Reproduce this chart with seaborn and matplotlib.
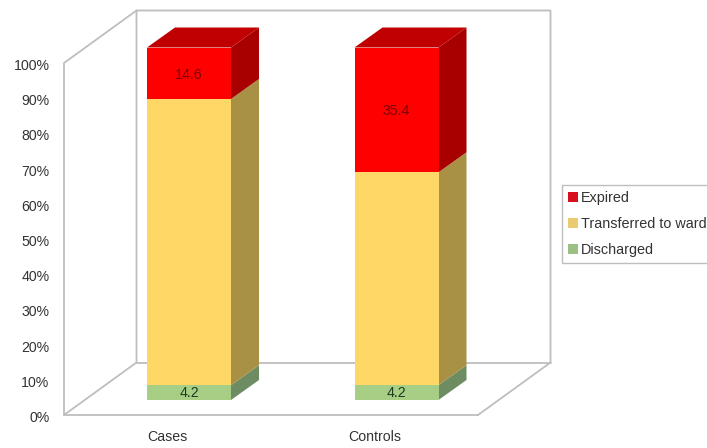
import matplotlib
matplotlib.use("Agg")
import matplotlib.pyplot as plt
from matplotlib.patches import Polygon, Rectangle
from matplotlib.transforms import ScaledTranslation
import seaborn as sns
import numpy as np

categories = ["Cases", "Controls"]
discharged = [4.2, 4.2]
transferred = [81.2, 60.4]
expired = [14.6, 35.4]
value_labels = {"Discharged": ["4.2", "4.2"], "Transferred to ward": [None, None], "Expired": ["14.6", "35.4"]}
tick_values = list(range(0, 101, 10))
tick_labels = [f"{v}%" for v in tick_values]

front = {"Discharged": "#A6CE85", "Transferred to ward": "#FFD766", "Expired": "#FF0000"}
side = {"Discharged": "#6E8C62", "Transferred to ward": "#A89045", "Expired": "#A80000"}
legend_colors = {"Discharged": "#9CC084", "Transferred to ward": "#EBCB70", "Expired": "#D8101E"}
top_color = "#C00000"
wall = "#BEBEBE"
text_color = "#333333"

W, H = 707, 448
sns.set_theme(style="white")
plt.rcParams["font.family"] = ["Liberation Sans", "DejaVu Sans"]

fig = plt.figure(figsize=(W / 100, H / 100), dpi=100, facecolor="white")


def box(x0, ytop, x1, ybot):
    return [x0 / W, 1 - ybot / H, (x1 - x0) / W, (ybot - ytop) / H]


# Front plane: axis ticks, category labels and the wall outline
ax = fig.add_axes(box(64, 63, 478, 415))
ax.set_xlim(-0.5, 1.5)
ax.set_ylim(0, 100)
ax.set_xticks(range(len(categories)), categories, fontsize=10.2, color=text_color)
ax.set_yticks(tick_values, tick_labels, fontsize=10.2, color=text_color)
ax.tick_params(axis="y", length=0, pad=10.5)
ax.tick_params(axis="x", length=0, pad=10.5)
for s in ax.spines.values():
    s.set_visible(False)
shift = ScaledTranslation(0, -1.5 / 100, fig.dpi_scale_trans)
for lab in ax.get_yticklabels():
    lab.set_transform(lab.get_transform() + shift)

wx, wy = 72.5 / 414, 52.5 / 352
outline = [
    [(1, 0), (0, 0), (0, 1), (wx, 1 + wy), (1 + wx, 1 + wy), (1 + wx, wy), (1, 0)],
    [(0, 0), (wx, wy), (wx, 1 + wy)],
    [(wx, wy), (1 + wx, wy)],
]
for seg in outline:
    xs, ys = zip(*seg)
    ax.plot(xs, ys, transform=ax.transAxes, color=wall, lw=1.3, clip_on=False, zorder=1)

# Bars, placed at mid-depth of the floor
bx = fig.add_axes(box(85.25, 47.5, 500.25, 400))
bx.patch.set_alpha(0)
bx.set_xlim(-0.5, 1.5)
bx.set_ylim(0, 100)
bx.axis("off")

depth_x = 28 / 207.5
depth_y = 20 / 352.5 * 100
bar_w = 84 / 207.5
label_shift = ScaledTranslation(0, -1.5 / 100, fig.dpi_scale_trans)

bottom = np.zeros(2)
series = [("Discharged", discharged), ("Transferred to ward", transferred), ("Expired", expired)]
for name, vals in series:
    n0 = len(bx.patches)
    sns.barplot(x=categories, y=vals, bottom=bottom, color=front[name], saturation=1,
                width=bar_w, ax=bx, zorder=3, linewidth=0, native_scale=False)
    new = bx.patches[n0:]
    for p, lab in zip(new, value_labels[name]):
        x, y, w, h = p.get_x(), p.get_y(), p.get_width(), p.get_height()
        bx.add_patch(Polygon([(x + w, y), (x + w + depth_x, y + depth_y),
                              (x + w + depth_x, y + h + depth_y), (x + w, y + h)],
                             closed=True, fc=side[name], ec="none", clip_on=False, zorder=2))
        if name == "Expired":
            bx.add_patch(Polygon([(x, y + h), (x + depth_x, y + h + depth_y),
                                  (x + w + depth_x, y + h + depth_y), (x + w, y + h)],
                                 closed=True, fc=top_color, ec="none", clip_on=False, zorder=2))
        if lab:
            t = bx.text(x + w / 2, y + h / 2, lab, ha="center", va="center", fontsize=10.2,
                        color="#7A0000" if name == "Expired" else "#1F3A1F", zorder=5)
            if name == "Expired":
                t.set_transform(t.get_transform() + label_shift)
    bottom = bottom + np.array(vals)
bx.set_xlim(-0.5, 1.5)
bx.set_ylim(0, 100)

# Legend
handles = [Rectangle((0, 0), 1, 1, fc=legend_colors[n], ec="none") for n, _ in reversed(series)]
names = [n for n, _ in reversed(series)]
leg = fig.legend(handles, names, loc="upper left",
                 bbox_to_anchor=(562 / W, 1 - 185 / H), bbox_transform=fig.transFigure,
                 fontsize=10.4, frameon=True, fancybox=False, edgecolor="#BEBEBE",
                 facecolor="white", framealpha=1, handlelength=0.72, handleheight=0.72,
                 handletextpad=0.18, labelspacing=0.83, borderpad=0.4, borderaxespad=0,
                 labelcolor=text_color)
leg.get_frame().set_linewidth(1.0)

fig.savefig("out.png", dpi=100)
